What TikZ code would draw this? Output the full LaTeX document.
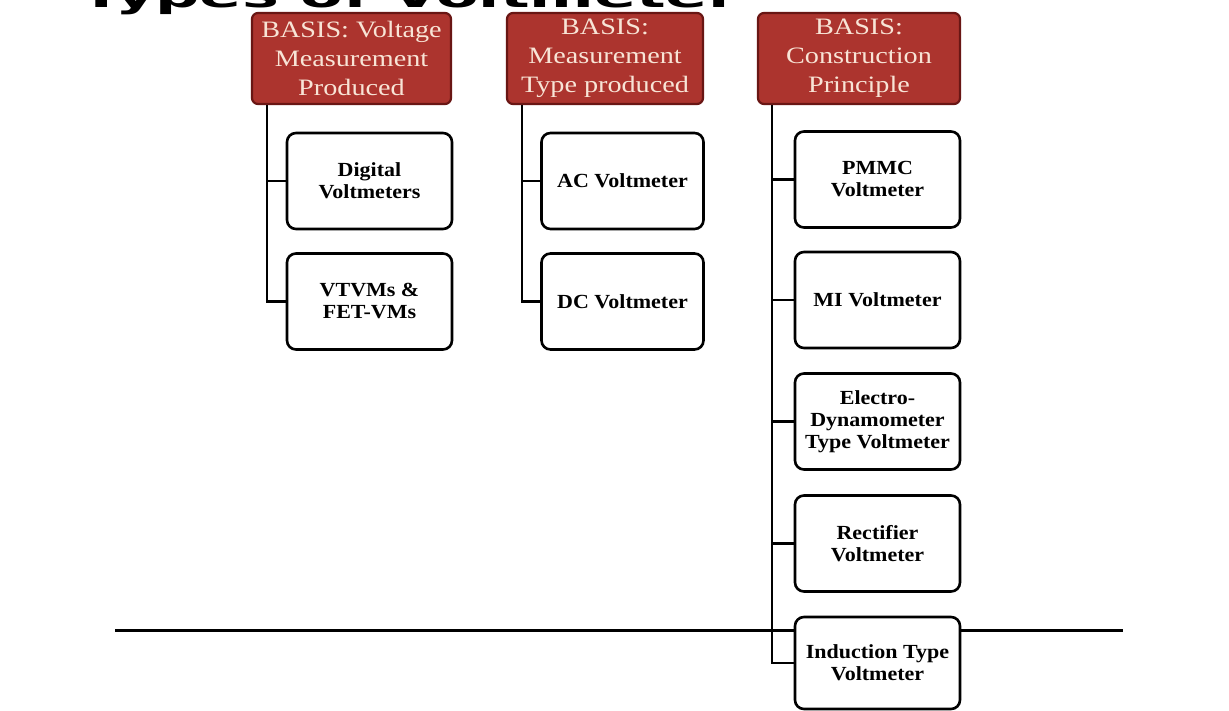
\documentclass[tikz,border=0pt]{standalone}
\usepackage{fontspec}
\setmainfont{Liberation Serif}
\newfontfamily\titlefont{DejaVu Sans}
\newfontfamily\hdrfont[FakeStretch=1.2]{Liberation Serif}
\newfontfamily\childfont[FakeStretch=1.1]{Liberation Serif}
\definecolor{hdrfill}{RGB}{172,52,46}
\definecolor{hdrdraw}{RGB}{105,22,20}
\definecolor{hdrtext}{RGB}{248,228,214}
\tikzset{
  hdr/.style={draw=hdrdraw, line width=2.2pt, fill=hdrfill, rounded corners=6pt,
    text=hdrtext, align=center, inner sep=0pt, font=\hdrfont\fontsize{23.5}{29}\selectfont},
  child/.style={draw=black, line width=2.6pt, fill=white, rounded corners=9pt,
    align=center, inner sep=0pt, font=\childfont\bfseries\fontsize{20}{22}\selectfont},
  conn/.style={draw=black, line width=2.6pt},
}
\begin{document}
\begin{tikzpicture}[x=1pt,y=-1pt]
\useasboundingbox (0,0) rectangle (1229,711);
\fill[white] (0,0) rectangle (1229,711);
% title (cut off at top)
\node[anchor=base west, inner sep=0pt, font=\titlefont\bfseries\fontsize{62}{62}\selectfont] (title) at (80,8) {\scalebox{1}[0.55]{Types of Voltmeter}};
% long horizontal line
\coordinate (rl) at (115,630);
\coordinate (rr) at (1123,630);
\draw[line width=3pt] (rl) -- (rr);
% headers
\node[hdr, minimum width=199pt, minimum height=91pt] (h1) at (351.5,58.5) {BASIS: Voltage\\Measurement\\Produced};
\node[hdr, minimum width=196pt, minimum height=91pt] (h2) at (605,58.5) {BASIS:\\Measurement\\Type produced};
\node[hdr, minimum width=202pt, minimum height=91pt] (h3) at (859,58.5) {BASIS:\\Construction\\Principle};
% column 1
\node[child, minimum width=165pt, minimum height=96pt] (dig) at (369.5,181) {Digital\\Voltmeters};
\node[child, minimum width=165pt, minimum height=96pt] (vt) at (369.5,301.5) {VTVMs \&\\FET-VMs};
% column 2
\node[child, minimum width=162pt, minimum height=96pt] (ac) at (622.5,181) {AC Voltmeter};
\node[child, minimum width=162pt, minimum height=96pt] (dc) at (622.5,301.5) {DC Voltmeter};
% column 3
\node[child, minimum width=165pt, minimum height=96pt] (pm) at (877.5,179.5) {PMMC\\Voltmeter};
\node[child, minimum width=165pt, minimum height=96pt] (mi) at (877.5,300) {MI Voltmeter};
\node[child, minimum width=165pt, minimum height=96pt] (ed) at (877.5,421.5) {Electro-\\Dynamometer\\Type Voltmeter};
\node[child, minimum width=165pt, minimum height=96pt] (re) at (877.5,543.5) {Rectifier\\Voltmeter};
\node[child, minimum width=165pt, minimum height=92pt] (in) at (877.5,663) {Induction Type\\Voltmeter};
% connectors
\draw[conn] ([xshift=16pt]h1.south west) |- (dig.west);
\draw[conn] ([xshift=16pt]h1.south west) |- (vt.west);
\draw[conn] ([xshift=16pt]h2.south west) |- (ac.west);
\draw[conn] ([xshift=16pt]h2.south west) |- (dc.west);
\draw[conn] ([xshift=15pt]h3.south west) |- (pm.west);
\draw[conn] ([xshift=15pt]h3.south west) |- (mi.west);
\draw[conn] ([xshift=15pt]h3.south west) |- (ed.west);
\draw[conn] ([xshift=15pt]h3.south west) |- (re.west);
\draw[conn] ([xshift=15pt]h3.south west) |- (in.west);
\end{tikzpicture}
\end{document}
